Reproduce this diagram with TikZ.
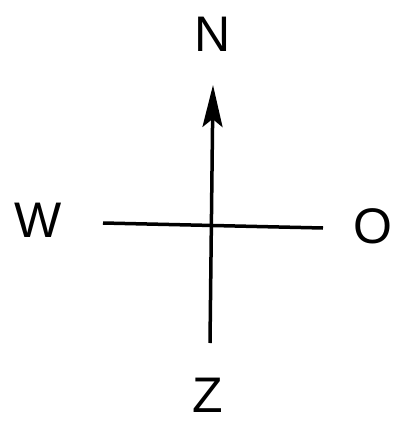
\documentclass[tikz,border=0pt]{standalone}
\usepackage{fontspec}
\setmainfont{Liberation Sans}
\usetikzlibrary{arrows.meta}
\begin{document}
\begin{tikzpicture}[x=1pt,y=-1pt,
  lbl/.style={font=\fontsize{50}{50}\selectfont, inner sep=0pt, anchor=center},
  axis/.style={line width=3.5pt}]
\useasboundingbox (0,0) rectangle (409,421);
\node[lbl] (N) at (213,34) {N};
\node[lbl] (W) at (38,220) {W};
\node[lbl] (O) at (373,226) {O};
\node[lbl] (Z) at (208,395) {Z};
\coordinate (top) at (213,85);
\coordinate (bot) at (210,343);
\coordinate (left) at (103,223);
\coordinate (right) at (323,228);
\draw[axis, -{Stealth[length=42pt,width=20pt,inset=8pt]}] (bot) -- (top);
\draw[axis] (left) -- (right);
\end{tikzpicture}
\end{document}
